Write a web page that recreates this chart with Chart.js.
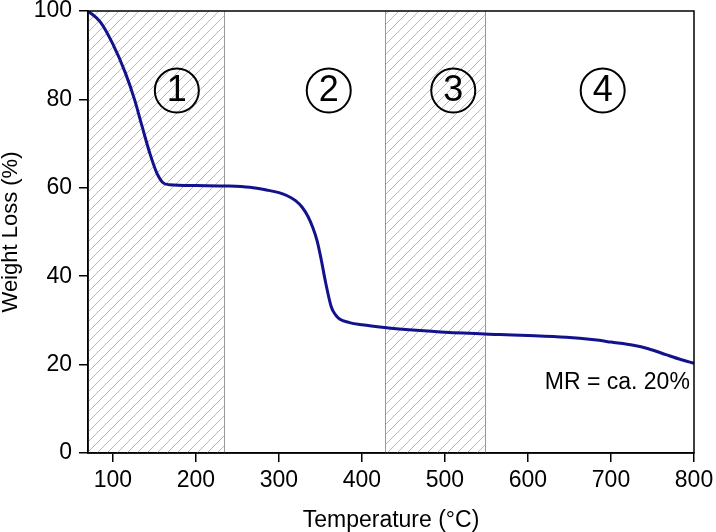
<!DOCTYPE html>
<html>
<head>
<meta charset="utf-8">
<script src="https://cdn.jsdelivr.net/npm/chart.js@4"></script>
<style>
  html, body { margin: 0; padding: 0; background: #fff; }
  #wrap { width: 716px; height: 532px; }
</style>
</head>
<body>
<div id="wrap"><canvas id="myChart"></canvas></div>
<script>
const temps = [70, 85, 100, 115, 126, 135, 145, 153, 160, 168, 200, 240, 265, 285, 300, 310, 320, 328, 335, 341, 346, 351, 356, 363, 368, 373, 385, 400, 427, 470, 500, 566, 600, 646, 680, 700, 727, 745, 767, 785, 800];
const weights = [100, 97.5, 92.5, 86, 80, 74, 67.5, 63.3, 61.2, 60.7, 60.5, 60.4, 60.1, 59.5, 58.9, 58.2, 57.1, 55.6, 53.5, 50.9, 48.0, 43.7, 38.8, 33.1, 31.3, 30.3, 29.5, 29.0, 28.4, 27.7, 27.3, 26.8, 26.6, 26.2, 25.6, 25.1, 24.4, 23.6, 22.2, 21.1, 20.3];
const xTicks = [100, 200, 300, 400, 500, 600, 700, 800];
const yTicks = [0, 20, 40, 60, 80, 100];
const hatchedRegions = [[70, 234], [428, 548]];
const regionLines = [234, 428, 548];
const stageLabels = ['1', '2', '3', '4'];
const stageX = [177, 360, 510, 690];
const residueText = 'MR = ca. 20%';

const FONT = "'Liberation Sans', Arial, sans-serif";

function makeHatch() {
    const c = document.createElement('canvas');
    c.width = 10; c.height = 10;
    const g = c.getContext('2d');
    g.strokeStyle = '#b8b8b8';
    g.lineWidth = 1;
    g.beginPath();
    g.moveTo(-1, 11); g.lineTo(11, -1);
    g.moveTo(-1, 1); g.lineTo(1, -1);
    g.moveTo(9, 11); g.lineTo(11, 9);
    g.stroke();
    return c;
}

const stagesPlugin = {
    id: 'stages',
    beforeDatasetsDraw(chart) {
        const {ctx, chartArea: a, scales: {x}} = chart;
        const pat = ctx.createPattern(makeHatch(), 'repeat');
        ctx.save();
        ctx.fillStyle = pat;
        hatchedRegions.forEach(r => {
            const x0 = x.getPixelForValue(r[0]);
            const x1 = x.getPixelForValue(r[1]);
            ctx.fillRect(x0, a.top, x1 - x0, a.bottom - a.top);
        });
        ctx.strokeStyle = '#999';
        ctx.lineWidth = 1;
        regionLines.forEach(v => {
            const px = Math.round(x.getPixelForValue(v)) + 0.5;
            ctx.beginPath();
            ctx.moveTo(px, a.top);
            ctx.lineTo(px, a.bottom);
            ctx.stroke();
        });
        ctx.restore();
    },
    afterDraw(chart) {
        const {ctx, chartArea: a, scales: {x, y}} = chart;
        ctx.save();
        // circled stage numbers
        stageLabels.forEach((t, i) => {
            const cx = x.getPixelForValue(stageX[i]);
            const cy = y.getPixelForValue(82);
            ctx.beginPath();
            ctx.arc(cx, cy, 22, 0, Math.PI * 2);
            ctx.strokeStyle = '#000';
            ctx.lineWidth = 2;
            ctx.stroke();
            ctx.fillStyle = '#000';
            ctx.font = "36px " + FONT;
            ctx.textAlign = 'center';
            ctx.textBaseline = 'middle';
            ctx.fillText(t, cx, cy + 1);
        });
        ctx.font = "23px " + FONT;
        ctx.textAlign = 'right';
        ctx.textBaseline = 'alphabetic';
        ctx.fillText(residueText, x.getPixelForValue(795), y.getPixelForValue(14.5));
        // frame
        ctx.strokeStyle = '#000';
        ctx.lineWidth = 1.5;
        ctx.strokeRect(a.left, a.top, a.right - a.left, a.bottom - a.top);
        ctx.restore();
    }
};

document.addEventListener('DOMContentLoaded', function() {
    const ctx = document.getElementById('myChart').getContext('2d');
    new Chart(ctx, {
        type: 'line',
        data: {
            datasets: [{
                data: temps.map((t, i) => ({x: t, y: weights[i]})),
                borderColor: '#12128c',
                borderWidth: 3,
                pointRadius: 0,
                fill: false,
                cubicInterpolationMode: 'monotone'
            }]
        },
        options: {
            responsive: true,
            maintainAspectRatio: false,
            animation: false,
            layout: { padding: 0 },
            plugins: {
                legend: { display: false },
                tooltip: { enabled: false }
            },
            scales: {
                x: {
                    type: 'linear',
                    min: 70,
                    max: 800,
                    afterBuildTicks: s => { s.ticks = xTicks.map(v => ({value: v})); },
                    afterFit: s => { s.height = 79; s.paddingLeft = 0; s.paddingRight = 22; },
                    grid: { drawOnChartArea: false, tickLength: 9, color: '#000', lineWidth: 1.5 },
                    border: { color: '#000', width: 1.5 },
                    ticks: { color: '#000', padding: 5, font: { size: 23, family: FONT } },
                    title: {
                        display: true,
                        text: 'Temperature (°C)',
                        color: '#000',
                        padding: 0,
                        font: { size: 23, family: FONT, lineHeight: 1 }
                    }
                },
                y: {
                    min: 0,
                    max: 100,
                    afterBuildTicks: s => { s.ticks = yTicks.map(v => ({value: v})); },
                    afterFit: s => { s.width = 88; s.paddingTop = 11; s.paddingBottom = 0; },
                    grid: { drawOnChartArea: false, tickLength: 9, color: '#000', lineWidth: 1.5 },
                    border: { color: '#000', width: 1.5 },
                    ticks: { color: '#000', padding: 7, font: { size: 23, family: FONT } },
                    title: {
                        display: true,
                        text: 'Weight Loss (%)',
                        color: '#000',
                        padding: 0,
                        font: { size: 22, family: FONT, lineHeight: 1 }
                    }
                }
            }
        },
        plugins: [stagesPlugin]
    });
});
</script>
</body>
</html>
